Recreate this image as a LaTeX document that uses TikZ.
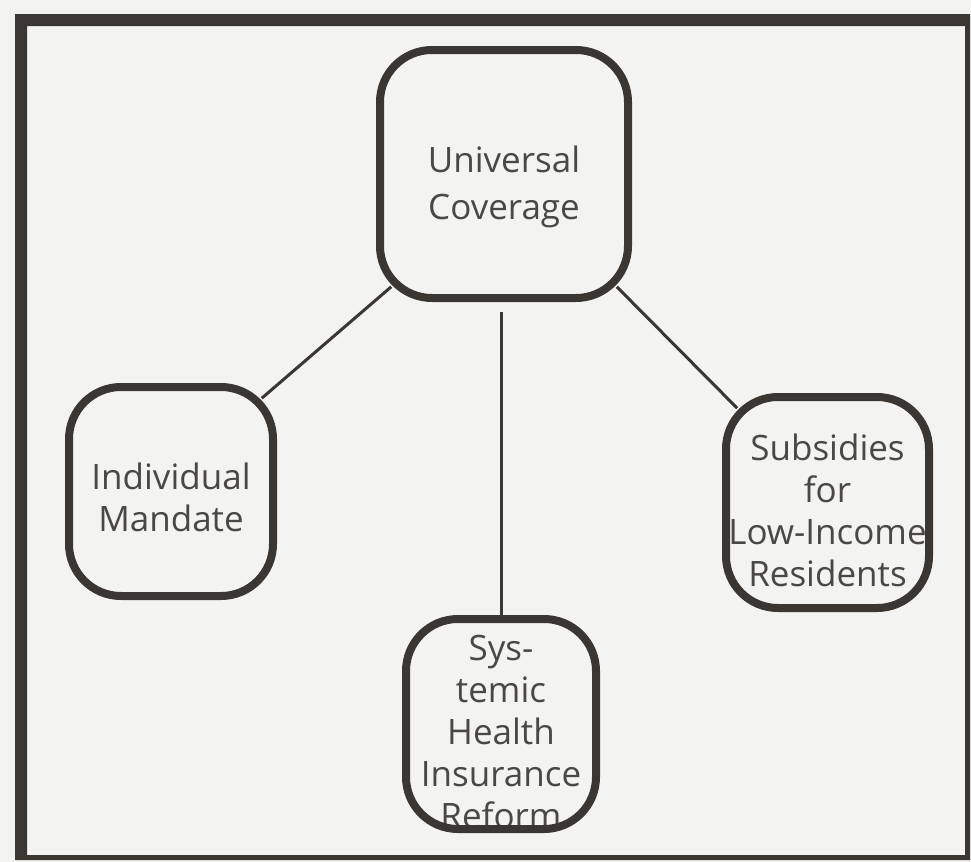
\documentclass[tikz,border=0pt]{standalone}
\usepackage{fontspec}
\setmainfont{Open Sans}
\usetikzlibrary{positioning}

\definecolor{paper}{HTML}{F3F3F1}
\definecolor{boxline}{HTML}{3A3632}
\definecolor{ink}{HTML}{4A4846}

\tikzset{
    topic/.style={draw=boxline, line width=4pt, rounded corners=26pt,
        inner sep=0pt},
    caption/.style={text=ink, align=center, inner sep=0pt,
        font=\fontsize{17.5}{21}\selectfont},
    link/.style={draw=boxline, line width=1.5pt}
}

\begin{document}
\begin{tikzpicture}[x=0.5pt,y=-0.5pt]

    % papel y marco
    \fill[paper] (0,0) rectangle (971,862);
    \useasboundingbox (0,0) rectangle (971,862);
    \fill[boxline, even odd rule] (15,14) rectangle (970,860)
        (27,26) rectangle (965,855);

    % centros de las cajas
    \coordinate (covc) at (504,174);
    \coordinate (mandatec) at (171,491.5);
    \coordinate (subsidyc) at (827.5,502.5);
    \coordinate (reformc) at (501,724);

    % textos (debajo del borde)
    \node[caption, font=\fontsize{17.5}{23.5}\selectfont, yshift=-6.5pt]
        (covtext) at (covc) {Universal\\Coverage};
    \node[caption, yshift=-3pt]
        (mandatetext) at (mandatec) {Individual\\Mandate};
    \node[caption, yshift=-4pt]
        (subsidytext) at (subsidyc) {Subsidies\\for\\Low-Income\\Residents};
    \node[caption, yshift=-4pt]
        (reformtext) at (reformc) {Sys-\\temic\\Health\\Insurance\\Reform};

    % cajas
    \node[topic, minimum width=124pt, minimum height=124pt]
        (cov) at (covc) {};
    \node[topic, minimum width=102pt, minimum height=104.5pt]
        (mandate) at (mandatec) {};
    \node[topic, minimum width=101.5pt, minimum height=105.5pt]
        (subsidy) at (subsidyc) {};
    \node[topic, minimum width=95pt, minimum height=105pt]
        (reform) at (reformc) {};

    % conexiones (tocan la esquina redonda)
    \draw[link] ([xshift=7.6pt,yshift=7.6pt]cov.south west)
        -- ([xshift=-7.6pt,yshift=-7.6pt]mandate.north east);
    \draw[link] ([xshift=-7.6pt,yshift=7.6pt]cov.south east)
        -- ([xshift=7.6pt,yshift=-7.6pt]subsidy.north west);
    \draw[link, shorten <=5pt] (reform.north |- cov.south) -- (reform.north);

\end{tikzpicture}
\end{document}
